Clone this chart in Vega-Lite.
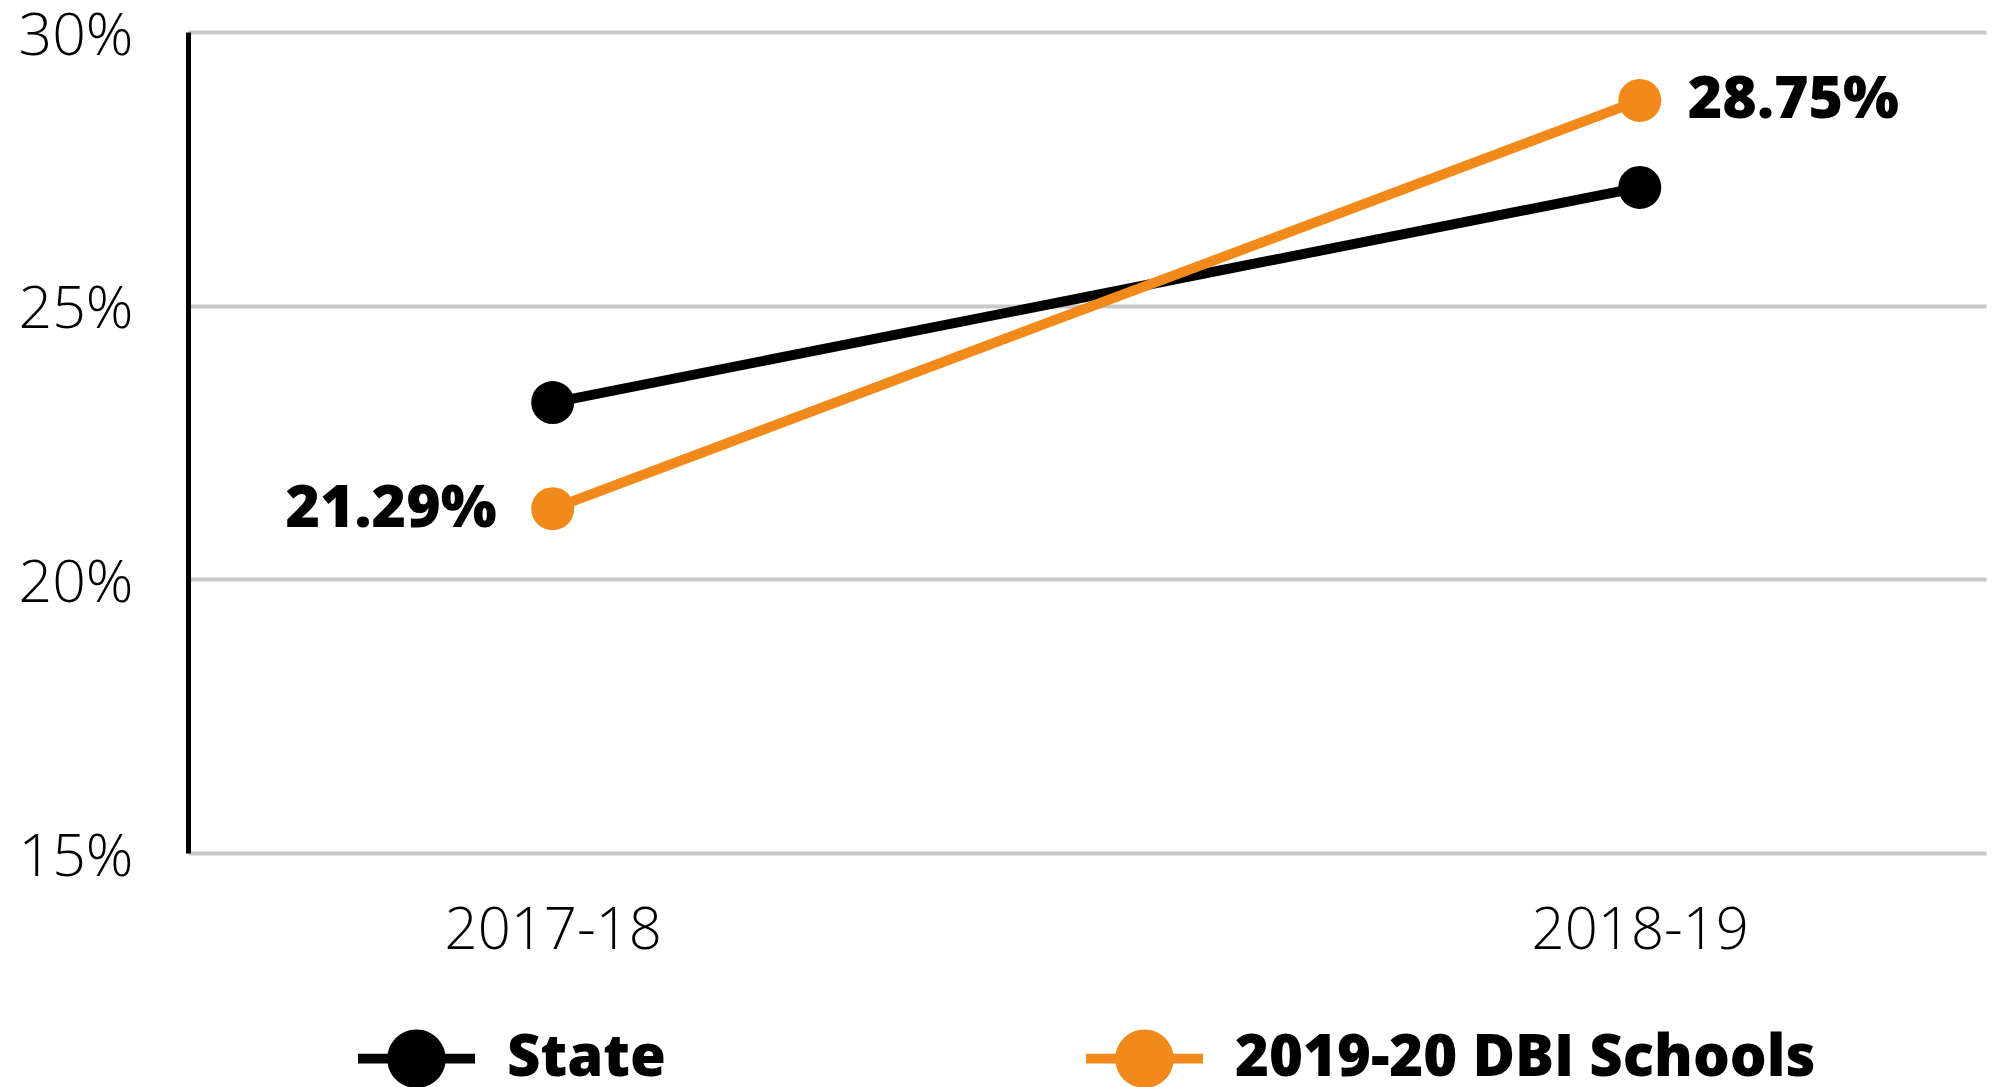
{
  "$schema": "https://vega.github.io/schema/vega-lite/v6.json",
  "autosize": {"type": "none"},
  "width": 1798,
  "height": 821,
  "padding": {"left": 188, "top": 32, "right": 8, "bottom": 234},
  "background": "white",
  "config": {
    "view": {"stroke": null},
    "font": "Open Sans"
  },
  "data": {
    "values": [
      {"year": "2017-18", "series": "State", "value": 0.2323},
      {"year": "2018-19", "series": "State", "value": 0.2716},
      {"year": "2017-18", "series": "2019-20 DBI Schools", "value": 0.2129},
      {"year": "2018-19", "series": "2019-20 DBI Schools", "value": 0.2875}
    ]
  },
  "encoding": {
    "x": {
      "field": "year", "type": "ordinal",
      "scale": {"type": "point", "padding": 0.327, "align": 0.513},
      "axis": {"title": null, "labelAngle": 0, "domain": false, "ticks": false, "grid": false, "labelLimit": 1000,
        "labelFont": "Open Sans", "labelFontWeight": 300, "labelFontSize": 58, "labelColor": "#000", "labelPadding": 49}
    },
    "y": {
      "field": "value", "type": "quantitative",
      "scale": {"domain": [0.15, 0.30], "nice": false, "zero": false},
      "axis": {"title": null, "values": [0.15, 0.2, 0.25, 0.3], "format": ".0%",
        "domain": true, "domainColor": "#000", "domainWidth": 5, "ticks": false,
        "grid": true, "gridColor": "#c8c8c8", "gridWidth": 4, "labelOffset": 4,
        "labelFont": "Open Sans", "labelFontWeight": 300, "labelFontSize": 59, "labelColor": "#000", "labelPadding": 55}
    },
    "color": {
      "field": "series", "type": "nominal",
      "scale": {"domain": ["State", "2019-20 DBI Schools"], "range": ["#000000", "#F18A1B"]},
      "legend": {
        "title": null, "orient": "none", "direction": "horizontal", "legendX": 170, "legendY": 968,
        "symbolType": "M-1,-0.085L-0.45,-0.085L-0.45,0.085L-1,0.085Z M0.45,-0.085L1,-0.085L1,0.085L0.45,0.085Z M-0.5,0A0.5,0.5 0 1,1 0.5,0A0.5,0.5 0 1,1 -0.5,0Z",
        "symbolSize": 13689, "symbolStrokeWidth": 0, "symbolOpacity": 1,
        "labelFont": "Open Sans", "labelFontWeight": 800, "labelFontSize": 58, "labelColor": "#000",
        "labelOffset": 32, "columnPadding": 420, "labelLimit": 1000
      }
    }
  },
  "layer": [
    {"mark": {"type": "point", "filled": true, "size": 1850, "opacity": 1, "shape": "circle"}},
    {"mark": {"type": "line", "strokeWidth": 10}},
    {
      "transform": [{"filter": "datum.series == '2019-20 DBI Schools' && datum.year == '2017-18'"}],
      "mark": {"type": "text", "align": "right", "baseline": "middle", "dx": -56, "font": "Open Sans", "fontWeight": 800, "fontSize": 59, "color": "#000"},
      "encoding": {"text": {"field": "value", "type": "quantitative", "format": ".2%"}, "color": {"value": "#000"}}
    },
    {
      "transform": [{"filter": "datum.series == '2019-20 DBI Schools' && datum.year == '2018-19'"}],
      "mark": {"type": "text", "align": "left", "baseline": "middle", "dx": 48, "font": "Open Sans", "fontWeight": 800, "fontSize": 59, "color": "#000"},
      "encoding": {"text": {"field": "value", "type": "quantitative", "format": ".2%"}, "color": {"value": "#000"}}
    }
  ]
}
